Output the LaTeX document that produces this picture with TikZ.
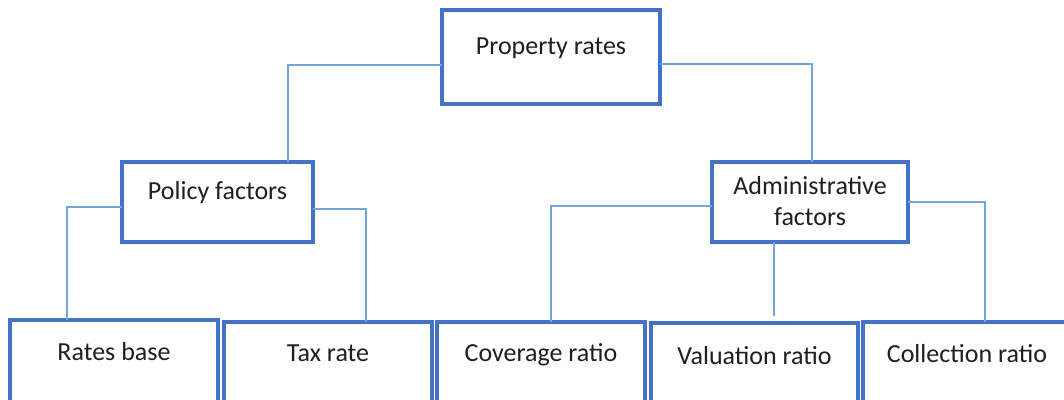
\documentclass[tikz,border=0pt]{standalone}
\usepackage{fontspec}
\setmainfont{Carlito}
\usetikzlibrary{calc}

\definecolor{boxblue}{RGB}{68,114,196}
\definecolor{linkblue}{RGB}{116,166,219}

\tikzset{
	box/.style={draw=boxblue, line width=2.4pt, fill=white, rectangle, inner sep=0pt, outer sep=0pt},
	lbl/.style={text=black!88, font=\fontsize{18.5}{22}\selectfont, align=center, inner sep=0pt},
	link/.style={draw=linkblue, line width=1pt}
}

\begin{document}
\begin{tikzpicture}[x=0.025cm, y=-0.025cm]
	
	\useasboundingbox (0,0) rectangle (1064,400);
	\clip (0,0) rectangle (1064,400);
	
	% Top level
	\node[box, minimum width=218*0.025cm, minimum height=94*0.025cm] (prop) at (551,57) {};
	\node[lbl] (propt) at (551,48) {Property rates};
	
	% Second level
	\node[box, minimum width=191*0.025cm, minimum height=80*0.025cm] (policy) at (217.5,202) {};
	\node[lbl] (policyt) at (217.5,193) {Policy factors};
	
	\node[box, minimum width=196*0.025cm, minimum height=80*0.025cm] (admin) at (810,202) {};
	\node[lbl] (admint) at (810,201) {Administrative\\factors};
	
	% Bottom level
	\node[box, minimum width=208*0.025cm, minimum height=90*0.025cm] (rates) at (114,365) {};
	\node[lbl] (ratest) at (114,352) {Rates base};
	
	\node[box, minimum width=208*0.025cm, minimum height=90*0.025cm] (tax) at (328,367) {};
	\node[lbl] (taxt) at (328,353) {Tax rate};
	
	\node[box, minimum width=208*0.025cm, minimum height=90*0.025cm] (cov) at (541,367) {};
	\node[lbl] (covt) at (541,355) {Coverage ratio};
	
	\node[box, minimum width=207*0.025cm, minimum height=90*0.025cm] (val) at (754.5,368) {};
	\node[lbl] (valt) at (754.5,356) {Valuation ratio};
	
	\node[box, minimum width=208*0.025cm, minimum height=90*0.025cm] (coll) at (967,367) {};
	\node[lbl] (collt) at (967,354) {Collection ratio};
	
	% Connectors
	\draw[link] ($(prop.west)+(0,8)$) -| ($(policy.north west)+(166,0)$);
	\draw[link] ($(prop.east)+(0,7)$) -| ($(admin.north west)+(100,0)$);
	
	\draw[link] ($(policy.west)+(0,5)$) -| ($(rates.north west)+(57,0)$);
	\draw[link] ($(policy.east)+(0,7)$) -| ($(tax.north west)+(142,0)$);
	
	\draw[link] ($(admin.west)+(0,4)$) -| ($(cov.north west)+(114,0)$);
	\draw[link] ($(admin.south west)+(62,0)$) -- ($(val.north west)+(123,-7)$);
	\draw[link] (admin.east) -| ($(coll.north west)+(122,0)$);
	
\end{tikzpicture}
\end{document}
